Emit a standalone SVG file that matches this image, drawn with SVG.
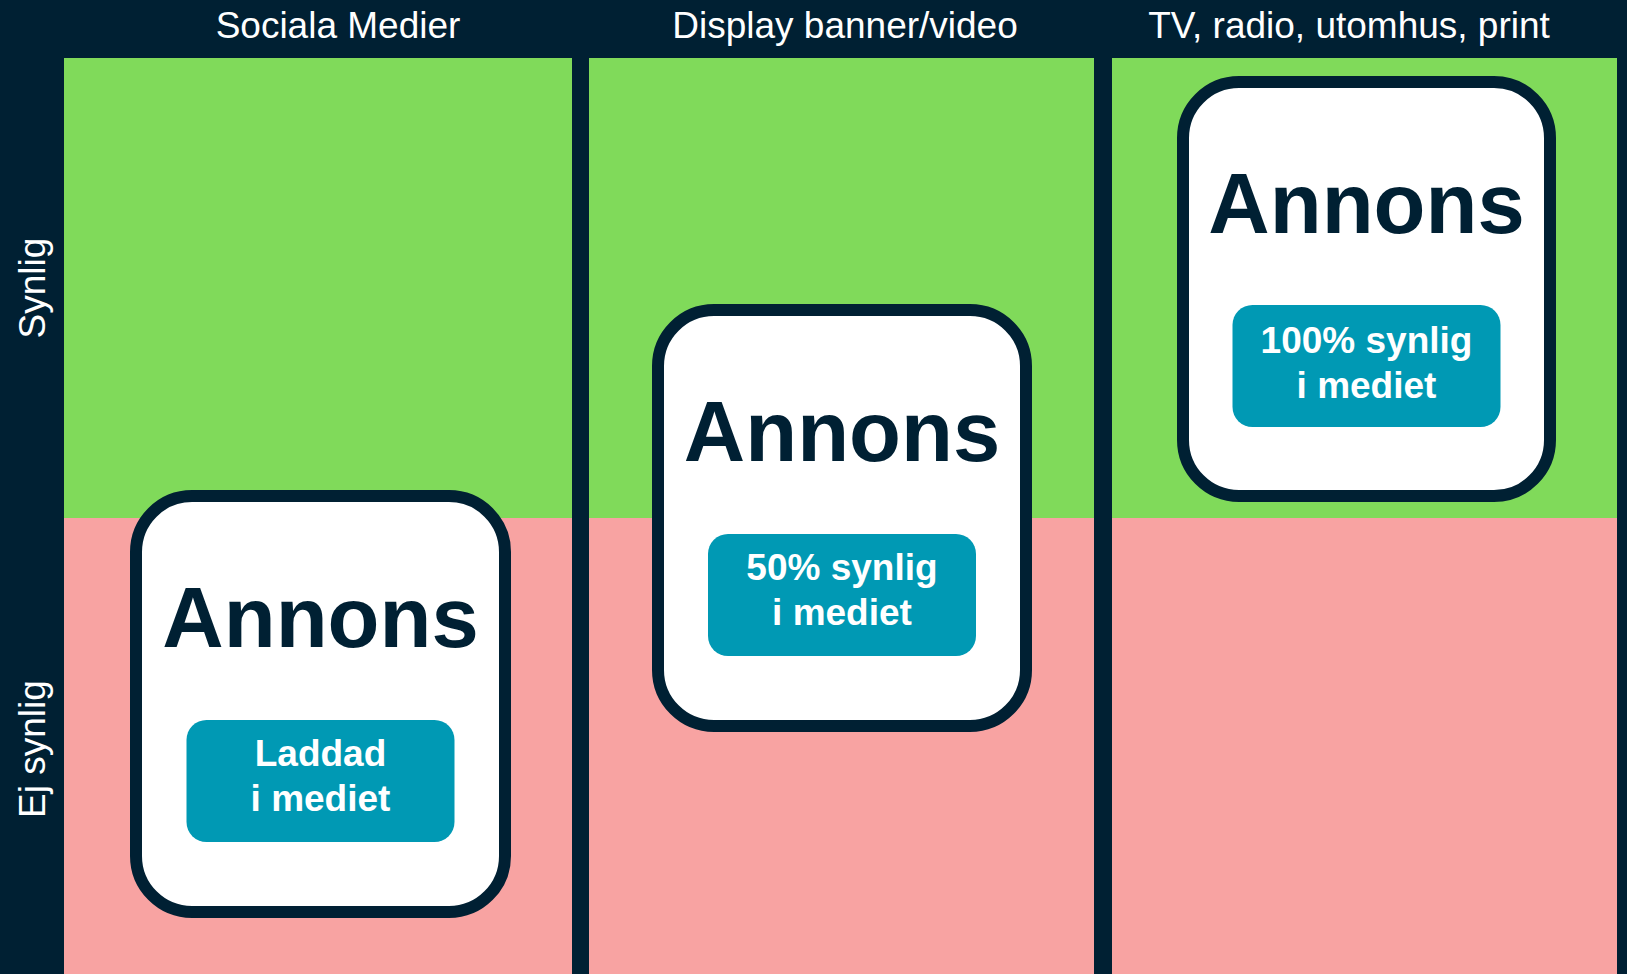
<svg xmlns="http://www.w3.org/2000/svg" width="1627" height="974" viewBox="0 0 1627 974">
<style>
.hdr{font-family:"Liberation Sans",Arial,sans-serif;font-size:37px;fill:#ffffff;text-anchor:middle}
.card{fill:#ffffff;stroke:#002033;stroke-width:12}
.big{font-family:"Liberation Sans",Arial,sans-serif;font-size:85px;font-weight:bold;fill:#002033;text-anchor:middle}
.tag{fill:#0099B4}
.tagt{font-family:"Liberation Sans",Arial,sans-serif;font-size:37px;font-weight:bold;fill:#ffffff;text-anchor:middle}
.green{fill:#80DA5A}
.pink{fill:#F8A3A2}
</style>
<rect x="0" y="0" width="1627" height="974" fill="#002033"/>
<g id="grid">
<rect class="green" x="64" y="58" width="508" height="460"/>
<rect class="pink" x="64" y="518" width="508" height="456"/>
<rect class="green" x="589" y="58" width="505" height="460"/>
<rect class="pink" x="589" y="518" width="505" height="456"/>
<rect class="green" x="1112" y="58" width="505" height="460"/>
<rect class="pink" x="1112" y="518" width="505" height="456"/>
</g>
<g id="headers">
<text class="hdr" x="338" y="38">Sociala Medier</text>
<text class="hdr" x="845" y="38">Display banner/video</text>
<text class="hdr" x="1349" y="38">TV, radio, utomhus, print</text>
<text class="hdr" transform="translate(45,288) rotate(-90)">Synlig</text>
<text class="hdr" transform="translate(45,749) rotate(-90)">Ej synlig</text>
</g>
<g id="card-sociala">
<rect class="card" x="136" y="496" width="369" height="416" rx="56"/>
<text class="big" x="320.5" y="647">Annons</text>
<rect class="tag" x="186.5" y="720" width="268" height="122" rx="20"/>
<text class="tagt" x="320.5" y="766">Laddad</text>
<text class="tagt" x="320.5" y="811">i mediet</text>
</g>
<g id="card-display">
<rect class="card" x="658" y="310" width="368" height="416" rx="56"/>
<text class="big" x="842" y="461">Annons</text>
<rect class="tag" x="708" y="534" width="268" height="122" rx="20"/>
<text class="tagt" x="842" y="580">50% synlig</text>
<text class="tagt" x="842" y="625">i mediet</text>
</g>
<g id="card-tv">
<rect class="card" x="1183" y="82" width="367" height="414" rx="56"/>
<text class="big" x="1366.5" y="233">Annons</text>
<rect class="tag" x="1232.5" y="305" width="268" height="122" rx="20"/>
<text class="tagt" x="1366.5" y="353">100% synlig</text>
<text class="tagt" x="1366.5" y="398">i mediet</text>
</g>
<g id="connectors"></g>
</svg>
